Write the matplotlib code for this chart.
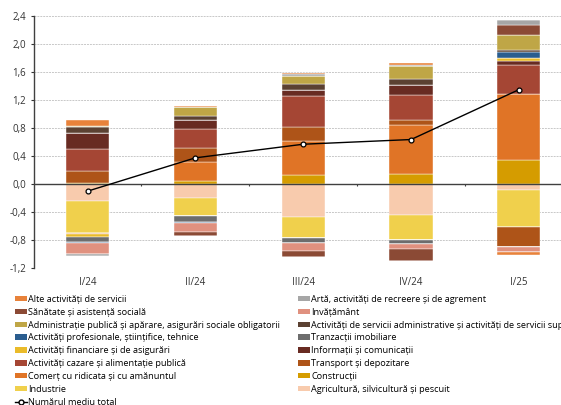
import numpy as np
import matplotlib
matplotlib.use('Agg')
import matplotlib.pyplot as plt
from matplotlib.patches import Patch
from matplotlib.lines import Line2D

plt.rcParams['font.family'] = ['Open Sans', 'DejaVu Sans']

# ---- DATA ----
quarters = ['I/24', 'II/24', 'III/24', 'IV/24', 'I/25']

# sectors in legend order (row by row)
alte = [0.075, 0.015, 0.014, 0.024, -0.043]
arta = [-0.02, -0.01, 0.019, 0.014, 0.071]
sanatate = [0.0, -0.05, -0.076, -0.166, 0.142]
invatamant = [-0.16, -0.13, -0.113, -0.071, -0.071]
admin_publica = [0.025, 0.125, 0.118, 0.185, 0.214]
admin_servicii = [0.08, 0.05, 0.081, 0.096, 0.033]
profesionale = [-0.01, -0.015, 0.0, 0.0, 0.091]
imobiliare = [-0.08, -0.08, -0.08, -0.067, 0.0]
financiare = [-0.04, 0.0, 0.0, 0.0, 0.042]
informatii = [0.23, 0.13, 0.095, 0.132, 0.047]
cazare = [0.31, 0.27, 0.436, 0.36, 0.413]
transport = [0.17, 0.20, 0.195, 0.067, -0.29]
comert = [-0.02, 0.27, 0.487, 0.711, 0.939]
constructii = [0.02, 0.05, 0.134, 0.138, 0.351]
industrie = [-0.45, -0.26, -0.30, -0.346, -0.521]
agricultura = [-0.24, -0.20, -0.464, -0.445, -0.085]

total = [-0.10, 0.375, 0.569, 0.636, 1.347]

series = [
    ('Alte activități de servicii', alte, '#E8823A'),
    ('Artă, activități de recreere și de agrement', arta, '#A6A6A6'),
    ('Sănătate și asistență socială', sanatate, '#8B4A35'),
    ('Invățământ', invatamant, '#E0917F'),
    ('Administrație publică și apărare, asigurări sociale obligatorii', admin_publica, '#BFA646'),
    ('Activități de servicii administrative și activități de servicii suport', admin_servicii, '#5B4132'),
    ('Activități profesionale, științifice, tehnice', profesionale, '#2A5D8F'),
    ('Tranzacții imobiliare', imobiliare, '#6D6D6D'),
    ('Activități financiare și de asigurări', financiare, '#EABB2A'),
    ('Informații și comunicații', informatii, '#682B22'),
    ('Activități cazare și alimentație publică', cazare, '#A54634'),
    ('Transport și depozitare', transport, '#AE5418'),
    ('Comerț cu ridicata și cu amănuntul', comert, '#E07426'),
    ('Construcții', constructii, '#D59C00'),
    ('Industrie', industrie, '#F0D04C'),
    ('Agricultură, silvicultură și pescuit', agricultura, '#F8CBAD'),
]

# ---- PLOT ----
fig = plt.figure(figsize=(5.61, 4.05), dpi=100)
ax = fig.add_axes([0.060, 0.3375, 0.961, 0.6235])

x = np.arange(len(quarters))
pos_bottom = np.zeros(len(quarters))
neg_bottom = np.zeros(len(quarters))

# stack from the bottom of the legend upward
for name, vals, color in reversed(series):
    v = np.array(vals)
    p = np.where(v > 0, v, 0)
    n = np.where(v < 0, v, 0)
    ax.bar(x, p, 0.4, bottom=pos_bottom, color=color, edgecolor='white', linewidth=0.3)
    ax.bar(x, n, 0.4, bottom=neg_bottom, color=color, edgecolor='white', linewidth=0.3)
    pos_bottom += p
    neg_bottom += n

ax.plot(x, total, color='black', lw=1, marker='o', ms=3.5, mfc='white', mec='black', mew=0.9, zorder=5)

ax.set_xlim(-0.5, len(quarters) - 0.5)
ax.set_ylim(-1.2, 2.4)
yt = np.arange(-1.2, 2.41, 0.4)
ax.set_yticks(yt)
ax.set_yticklabels([f'{t:.1f}'.replace('.', ',').replace('-0,0', '0,0') for t in yt])
ax.set_xticks(x)
ax.set_xticklabels(quarters)
ax.tick_params(axis='x', length=0, pad=6, labelsize=7, colors='#333333')
ax.tick_params(axis='y', length=2.5, width=0.8, pad=3, labelsize=7, colors='#333333')

for s in ['top', 'right', 'bottom']:
    ax.spines[s].set_visible(False)
ax.spines['left'].set_color('#404040')
ax.spines['left'].set_linewidth(1)

ax.yaxis.grid(True, color='#C8C8C8', linestyle=(0, (2, 1)), linewidth=0.7)
ax.set_axisbelow(True)
ax.axhline(0, color='#404040', lw=1, zorder=4)
ax.vlines(x[:-1] + 0.5, -0.025, 0, color='#404040', lw=0.8, zorder=4)

# ---- LEGEND (column-major ordering) ----
handles = [Patch(facecolor=c, label=n) for n, _, c in series]
line_h = Line2D([], [], color='black', lw=1, marker='o', ms=3.5, mfc='white', mec='black',
                label='Numărul mediu total')
left = handles[0::2] + [line_h]
right = handles[1::2]
fig.legend(handles=left + right, ncol=2, loc='upper left', bbox_to_anchor=(0.027, 0.272),
           frameon=False, fontsize=6.6, handlelength=1.3, handleheight=0.55, handletextpad=0.12,
           columnspacing=2.0, labelspacing=0.42, borderaxespad=0, borderpad=0)

fig.savefig('out.png', dpi=100)
